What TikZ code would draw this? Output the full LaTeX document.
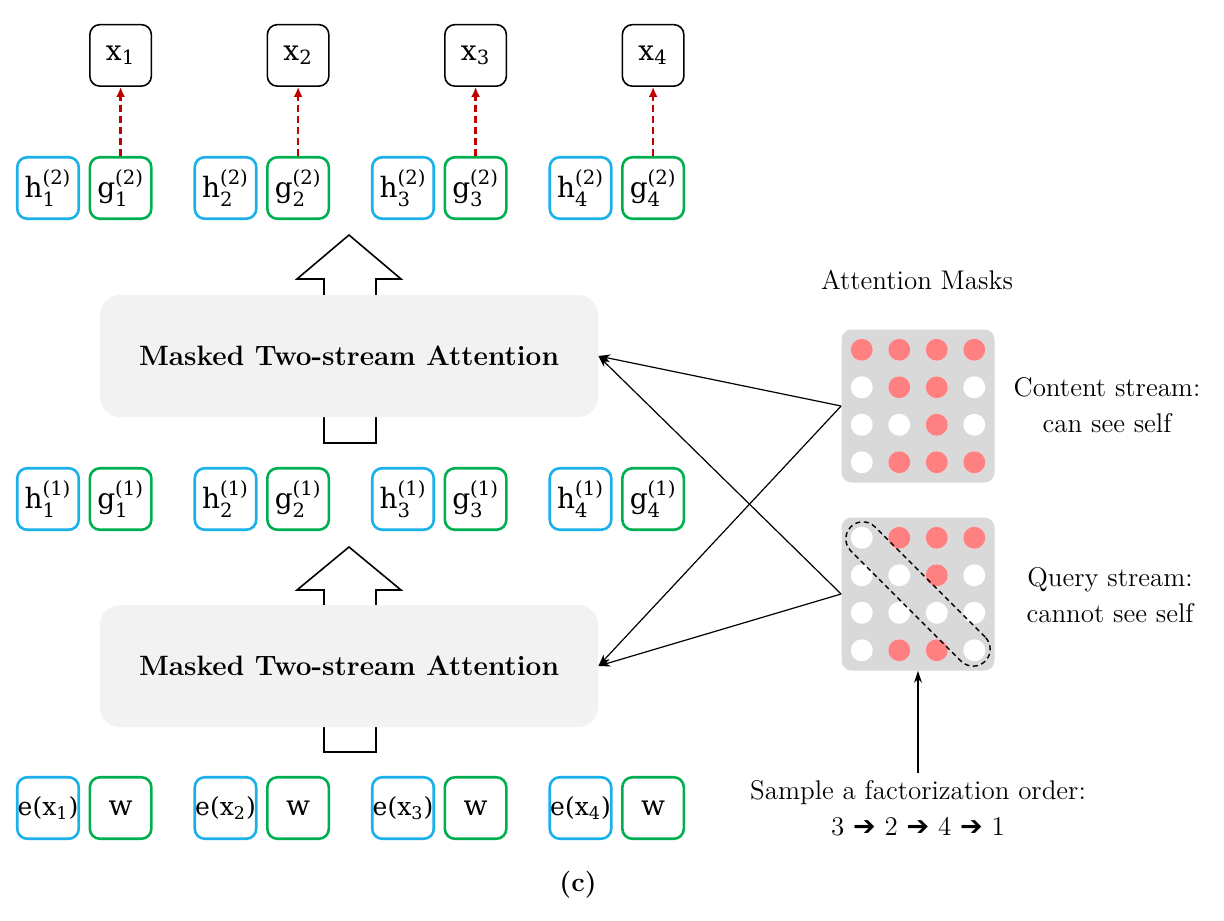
\documentclass[tikz,border=0pt]{standalone}
\usepackage{amsmath}
\usepackage{fontspec}
\usetikzlibrary{arrows.meta,positioning}
\newfontfamily\cellfont{DejaVu Serif}
\newfontfamily\arrowfont{DejaVu Sans}
\definecolor{hblue}{HTML}{1AB0EA}
\definecolor{ggreen}{HTML}{00B050}
\definecolor{outred}{HTML}{C00000}
\definecolor{maskred}{HTML}{FF8080}
\definecolor{maskgray}{HTML}{D9D9D9}
\definecolor{attngray}{HTML}{F2F2F2}
\tikzset{
    cell/.style={draw, rounded corners=5pt, line width=1.3pt, minimum width=30.75pt, minimum height=30.75pt, inner sep=0pt, font=\cellfont\fontsize{14}{16}\selectfont},
    hcell/.style={cell, draw=hblue},
    gcell/.style={cell, draw=ggreen},
    xcell/.style={cell, draw=black, line width=0.8pt},
    attn/.style={fill=attngray, rounded corners=10pt, minimum width=249pt, minimum height=61pt, font=\bfseries\fontsize{14}{16}\selectfont},
    maskbox/.style={fill=maskgray, rounded corners=5pt, minimum width=76.5pt, minimum height=76.5pt},
    dot/.style={circle, fill=#1, minimum size=11pt, inner sep=0pt},
    txt/.style={font=\fontsize{13.5}{18}\selectfont, align=center},
    feed/.style={-{Stealth[length=6pt,width=4pt]}, line width=0.6pt},
    blockarrow/.style={draw, fill=white, line width=0.8pt},
}
\newcommand\tok[3]{$\text{#1}^{\text{(#2)}}_{\text{#3}}$}
\begin{document}
\begin{tikzpicture}[x=0.5pt,y=-0.5pt]
    \useasboundingbox (0,0) rectangle (1224,920);

    % token columns
    \foreach \i in {1,...,4} {
        \pgfmathsetmacro\hx{48+177.5*(\i-1)}
        \node[hcell] (h2\i) at (\hx,188) {\tok{h}{2}{\i}};
        \node[gcell, right=4.25pt of h2\i] (g2\i) {\tok{g}{2}{\i}};
        \node[xcell, above=34.5pt of g2\i] (x\i) {$\text{x}_{\text{\i}}$};
        \draw[outred, dash pattern=on 3.5pt off 2pt, line width=1.3pt, -{Latex[length=5pt,width=4.5pt]}] (g2\i) -- (x\i);
        \node[hcell] (h1\i) at (\hx,499) {\tok{h}{1}{\i}};
        \node[gcell, right=4.25pt of h1\i] (g1\i) {\tok{g}{1}{\i}};
        \node[hcell, font=\cellfont\fontsize{12.5}{14}\selectfont] (e\i) at (\hx,808) {e(x$_{\text{\i}}$)};
        \node[gcell] (w\i) [right=4.25pt of e\i] {w};
    }

    \draw[blockarrow] (324,443) -- (324,279) -- (297,279) -- (349,235) -- (401,279) -- (376,279) -- (376,443) -- cycle;
    \draw[blockarrow] (324,752) -- (324,590) -- (297,590) -- (349,547) -- (401,590) -- (376,590) -- (376,752) -- cycle;
    \node[attn] (attn1) at (349,356) {Masked Two-stream Attention};
    \node[attn] (attn2) at (349,666) {Masked Two-stream Attention};

    % masks
    \node[txt] (title) at (917,280) {Attention Masks};
    \node[maskbox] (mask1) at (918,406) {};
    \node[maskbox] (mask2) at (918,594) {};
    \foreach \r in {1,...,4} {
        \foreach \c in {1,...,4} {
            \node[dot=white] (ca\r\c) at ({918+(\c-2.5)*37.5},{406+(\r-2.5)*37.5}) {};
            \node[dot=white] (qa\r\c) at ({918+(\c-2.5)*37.5},{594+(\r-2.5)*37.5}) {};
        }
    }
    \foreach \r/\c in {1/1,1/2,1/3,1/4,2/2,2/3,3/3,4/2,4/3,4/4}
        \node[dot=maskred] at (ca\r\c) {};
    \foreach \r/\c in {1/2,1/3,1/4,2/3,4/2,4/3}
        \node[dot=maskred] at (qa\r\c) {};
    \node[draw, dash pattern=on 2.5pt off 1.8pt, line width=0.7pt, rotate=-45, rounded corners=8.5pt, minimum width=95pt, minimum height=17pt] (diag) at (mask2) {};

    \node[txt] (content) at (1107,405) {Content stream:\\can see self};
    \node[txt] (query) at (1110,595) {Query stream:\\cannot see self};
    \node[txt] (order) at (918,808) {Sample a factorization order:\\3 {\arrowfont ➔} 2 {\arrowfont ➔} 4 {\arrowfont ➔} 1};

    \draw[feed] (mask1.west) -- (attn1.east);
    \draw[feed] (mask1.west) -- (attn2.east);
    \draw[feed] (mask2.west) -- (attn1.east);
    \draw[feed] (mask2.west) -- (attn2.east);
    \draw[feed] (order) -- (mask2.south);

    \node[font=\bfseries\fontsize{13.5}{16}\selectfont] (caption) at (578,885) {(c)};
\end{tikzpicture}
\end{document}
